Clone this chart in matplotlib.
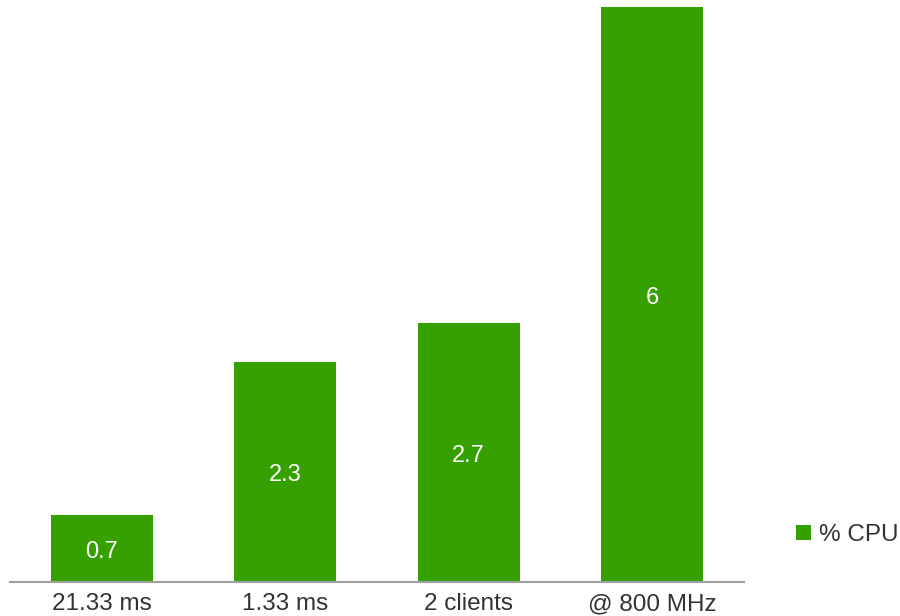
import matplotlib.pyplot as plt
from matplotlib.patches import Patch

categories = ['21.33 ms', '1.33 ms', '2 clients', '@ 800 MHz']
cpu_pct = [0.7, 2.3, 2.7, 6]
series_name = '% CPU'

plt.rcParams['font.family'] = ['Liberation Sans', 'DejaVu Sans']
green = '#36a000'
text_col = '#333333'

fig = plt.figure(figsize=(9, 6.16), dpi=100)
ax = fig.add_axes([10 / 900, 1 - 582 / 616, 734 / 900, 575 / 616])

bars = ax.bar(range(len(categories)), cpu_pct, width=0.555, color=green)
# value labels in the middle of each bar, nudged a little down like the original
for rect, v in zip(bars, cpu_pct):
    ax.annotate(f'{v:g}', (rect.get_x() + rect.get_width() / 2, v / 2),
                xytext=(0, -2.5), textcoords='offset points',
                ha='center', va='center', color='white', fontsize=17)

ax.set_xlim(-0.5, len(categories) - 0.5)
ax.set_ylim(0, 6)
ax.set_xticks(range(len(categories)))
ax.set_xticklabels(categories, fontsize=17.5, color=text_col)
ax.tick_params(axis='x', length=0, pad=8)
ax.set_yticks([])
for side in ['top', 'right', 'left']:
    ax.spines[side].set_visible(False)
ax.spines['bottom'].set_color('#a0a0a0')
ax.spines['bottom'].set_linewidth(1.5)

leg = fig.legend(handles=[Patch(facecolor=green, label=series_name)],
                 loc='center left', bbox_to_anchor=(796 / 900, 1 - 535 / 616),
                 frameon=False, borderpad=0, borderaxespad=0,
                 handlelength=0.6, handleheight=0.6,
                 handletextpad=0.35, fontsize=17.5, labelcolor=text_col)

fig.savefig('out.png', dpi=100)
